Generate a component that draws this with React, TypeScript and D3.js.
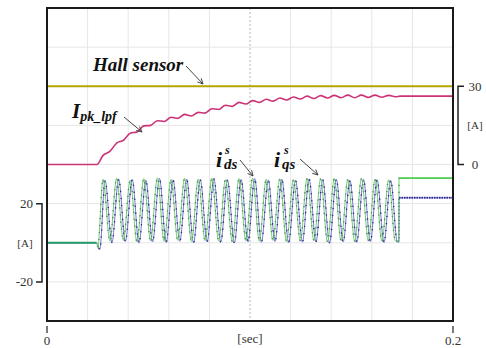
import { useRef, useEffect } from 'react';
import * as d3 from 'd3';

// time in ms, currents in A
const hallLevel = 30;

const ipkTimes = [0, 24.6, 27.6, 30.95, 34.3, 37.65, 41.0, 44.35, 47.7, 51.05, 54.4, 57.75, 61.1, 64.45, 67.8, 71.15,
  74.5, 77.85, 81.2, 84.55, 87.9, 91.25, 94.6, 97.95, 101.3, 104.65, 108.0, 111.35, 114.7, 118.05, 121.4, 124.75,
  128.1, 131.45, 134.8, 138.15, 141.5, 144.85, 148.2, 151.55, 154.9, 158.25, 161.6, 164.95, 168.3, 171.65, 174, 200];
const ipkVals = [0, 0, 3.5, 5.0, 8.2, 9.3, 12.0, 12.5, 14.8, 15.0, 16.8, 16.5, 18.1, 17.7, 19.2, 18.6,
  20.0, 19.7, 21.4, 21.1, 22.7, 22.3, 23.8, 23.2, 24.5, 23.8, 25.0, 24.3, 25.5, 24.7, 25.9, 25.1,
  26.2, 25.3, 26.4, 25.5, 26.5, 25.6, 26.6, 25.6, 26.6, 25.7, 26.6, 25.8, 26.5, 26.0, 26.2, 26.2];

const peakTimes = [27.6, 34.3, 41.0, 47.7, 54.4, 61.1, 67.8, 74.5, 81.2, 87.9, 94.6, 101.3, 108.0, 114.7,
  121.4, 128.1, 134.8, 141.5, 148.2, 154.9, 161.6, 168.3];
const troughTimes = [31.0, 37.6, 44.3, 51.0, 57.7, 64.4, 71.2, 77.9, 84.6, 91.3, 98.0, 104.6, 111.3, 118.0,
  124.8, 131.5, 138.2, 144.9, 151.6, 158.3, 165.0, 171.6];
const idsPeaks = [32.5, 33.0, 32.0, 32.8, 33.2, 32.4, 32.9, 32.6, 33.0, 32.2, 32.8, 33.1, 32.5, 32.7, 32.3,
  33.0, 32.6, 32.9, 32.4, 32.8, 32.5, 32.2];
const idsTroughs = [0.8, 1.2, 0.5, 1.0, 0.7, 1.3, 0.6, 1.1, 0.9, 0.4, 1.0, 0.8, 1.2, 0.6, 0.9, 1.1, 0.5, 1.0,
  0.8, 1.2, 0.7, 0.9];
const iqsPeaks = [31.8, 32.6, 32.3, 32.0, 32.9, 32.1, 32.5, 32.2, 32.7, 32.0, 32.4, 32.8, 32.1, 32.5, 32.0,
  32.6, 32.3, 32.5, 32.0, 32.4, 32.2, 31.9];
const iqsTroughs = [0.2, 0.6, -0.2, 0.4, 0.1, 0.7, 0.0, 0.5, 0.3, -0.1, 0.4, 0.2, 0.6, 0.0, 0.3, 0.5, -0.1,
  0.4, 0.2, 0.6, 0.1, 0.3];
const iqsLag = 1.0;
const startTimes = [24.4, 25.0];
const idsStart = [0, -2.5];
const iqsStart = [0, -3.5];
const stopTime = 173.4;
const idsFinal = 33;
const iqsFinal = 23;

const leftTicks = [20, -20];
const rightTicks = [30, 0];
const timeTicks = [0, 200];
const timeLabels = ['0', '0.2'];

function buildWave(peaks: number[], troughs: number[], start: number[], final: number, lag: number) {
  const pts: [number, number][] = [[0, 0]];
  startTimes.forEach((t, i) => pts.push([t + lag * i, start[i]]));
  peakTimes.forEach((t, i) => {
    pts.push([t + lag, peaks[i]]);
    pts.push([troughTimes[i] + lag, troughs[i]]);
  });
  pts.push([stopTime - 0.05, troughs[troughs.length - 1]]);
  pts.push([stopTime, final]);
  pts.push([200, final]);
  return pts;
}

export default function App() {
  const svgRef = useRef<SVGSVGElement>(null);

  useEffect(() => {
    const svg = d3.select(svgRef.current);
    svg.selectAll('*').remove();

    const left = 47, right = 453, top = 8, bottom = 321;
    const x = d3.scaleLinear().domain([0, 200]).range([left, right]);
    const yR = d3.scaleLinear().domain([-60, 60]).range([bottom, top]);
    const yL = d3.scaleLinear().domain([-40, 120]).range([bottom, top]);
    const font = "'Liberation Serif', 'Times New Roman', Times, serif";

    svg.append('rect').attr('width', 486).attr('height', 348).attr('fill', '#fff');

    // grid
    const g = svg.append('g');
    d3.range(1, 10).forEach(i => {
      const xx = left + (right - left) * i / 10;
      g.append('line').attr('x1', xx).attr('x2', xx).attr('y1', top).attr('y2', bottom)
        .attr('stroke', i === 5 ? '#b8b8b8' : '#e6e6e6').attr('stroke-width', 1)
        .attr('stroke-dasharray', i === 5 ? '2,2' : null);
    });
    d3.range(1, 8).forEach(i => {
      const yy = top + (bottom - top) * i / 8;
      g.append('line').attr('x1', left).attr('x2', right).attr('y1', yy).attr('y2', yy)
        .attr('stroke', '#e6e6e6').attr('stroke-width', 1);
    });

    // traces
    const line = d3.line<[number, number]>().curve(d3.curveMonotoneX);
    const hall = [[0, hallLevel], [200, hallLevel]] as [number, number][];
    svg.append('path')
      .attr('d', line.x(d => x(d[0])).y(d => yR(d[1]))(hall))
      .attr('fill', 'none').attr('stroke', '#b3a600').attr('stroke-width', 2);

    const ipk = ipkTimes.map((t, i) => [t, ipkVals[i]] as [number, number]);
    svg.append('path')
      .attr('d', line.x(d => x(d[0])).y(d => yR(d[1]))(ipk))
      .attr('fill', 'none').attr('stroke', '#cc3377').attr('stroke-width', 1.6);

    const iqs = buildWave(iqsPeaks, iqsTroughs, iqsStart, iqsFinal, iqsLag);
    const ids = buildWave(idsPeaks, idsTroughs, idsStart, idsFinal, 0);

    const waves = [
      { data: iqs, color: '#7a7ad0', dot: '#2a2a8c' },
      { data: ids, color: '#70d070', dot: '#5a8a70' },
    ];
    waves.forEach(w => {
      const p = svg.append('path')
        .attr('d', line.x(d => x(d[0])).y(d => yL(d[1]))(w.data))
        .attr('fill', 'none').attr('stroke', w.color).attr('stroke-width', 1);
      const node = p.node() as SVGPathElement;
      const len = node.getTotalLength();
      const dots = d3.range(0, len, 7).map(l => node.getPointAtLength(l))
        .filter(pt => pt.x > x(startTimes[0]) && pt.x < x(stopTime));
      svg.append('g').selectAll('circle').data(dots).enter().append('circle')
        .attr('cx', d => d.x).attr('cy', d => d.y).attr('r', 0.8).attr('fill', w.dot);
    });
    // levels before and after the pulse train
    svg.append('path')
      .attr('d', line.x(d => x(d[0])).y(d => yL(d[1]))([[0, 0], [startTimes[0], 0]]))
      .attr('stroke', '#279a6c').attr('stroke-width', 2).attr('fill', 'none');
    svg.append('path')
      .attr('d', line.x(d => x(d[0])).y(d => yL(d[1]))([[stopTime, idsFinal], [200, idsFinal]]))
      .attr('stroke', '#55cc55').attr('stroke-width', 1.8).attr('fill', 'none');
    svg.append('path')
      .attr('d', line.x(d => x(d[0])).y(d => yL(d[1]))([[stopTime, iqsFinal], [200, iqsFinal]]))
      .attr('stroke', '#33339a').attr('stroke-width', 1.8).attr('stroke-dasharray', '1.5,1')
      .attr('fill', 'none');

    // frame
    svg.append('rect').attr('x', left).attr('y', top).attr('width', right - left).attr('height', bottom - top)
      .attr('fill', 'none').attr('stroke', '#1a1a1a').attr('stroke-width', 2);

    // left axis bracket
    const ax = svg.append('g').attr('fill', '#333').attr('font-family', font).attr('font-size', 13);
    svg.append('path')
      .attr('d', `M36,${yL(leftTicks[0])}H42V${yL(leftTicks[1])}H36`)
      .attr('fill', 'none').attr('stroke', '#222').attr('stroke-width', 1.5);
    leftTicks.forEach(v => {
      ax.append('text').attr('x', 33).attr('y', yL(v) + 4.5).attr('text-anchor', 'end').text(String(v));
    });
    ax.append('text').attr('x', 25).attr('y', yL(0) + 4).attr('text-anchor', 'middle')
      .attr('font-size', 11).text('[A]');

    // right axis bracket
    svg.append('path')
      .attr('d', `M464,${yR(rightTicks[0])}H458V${yR(rightTicks[1])}H464`)
      .attr('fill', 'none').attr('stroke', '#222').attr('stroke-width', 1.5);
    rightTicks.forEach(v => {
      ax.append('text').attr('x', 475).attr('y', yR(v) + 4.5).attr('text-anchor', 'middle').text(String(v));
    });
    ax.append('text').attr('x', 475).attr('y', (yR(0) + yR(30)) / 2 + 4).attr('text-anchor', 'middle')
      .attr('font-size', 11).text('[A]');

    // time axis
    timeTicks.forEach((t, i) => {
      svg.append('line').attr('x1', x(t)).attr('x2', x(t)).attr('y1', 326).attr('y2', 333)
        .attr('stroke', '#222').attr('stroke-width', 1.2);
      ax.append('text').attr('x', x(t)).attr('y', 345).attr('text-anchor', 'middle').text(timeLabels[i]);
    });
    ax.append('text').attr('x', x(100)).attr('y', 343).attr('text-anchor', 'middle').text('[sec]');

    // annotations
    const lbl = svg.append('g').attr('font-family', font).attr('font-weight', 'bold')
      .attr('font-style', 'italic').attr('fill', '#111');
    lbl.append('text').attr('x', 93).attr('y', 71).attr('font-size', 19).text('Hall sensor');

    const ipkText = lbl.append('text').attr('x', 72).attr('y', 118).attr('font-size', 21);
    ipkText.append('tspan').text('I');
    ipkText.append('tspan').attr('dy', 3).attr('font-size', 14).text('pk_lpf');

    lbl.append('text').attr('x', 216).attr('y', 167).attr('font-size', 22).text('i');
    lbl.append('text').attr('x', 225).attr('y', 154).attr('font-size', 12).text('s');
    lbl.append('text').attr('x', 224).attr('y', 169).attr('font-size', 15).text('ds');

    lbl.append('text').attr('x', 274).attr('y', 167).attr('font-size', 22).text('i');
    lbl.append('text').attr('x', 284).attr('y', 154).attr('font-size', 12).text('s');
    lbl.append('text').attr('x', 282).attr('y', 169).attr('font-size', 15).text('qs');

    const arrows: [number, number, number, number][] = [
      [186, 66, 203, 84], [124, 117, 142, 132], [240, 160, 253, 176], [300, 159, 318, 175],
    ];
    arrows.forEach(([x1, y1, x2, y2]) => {
      svg.append('line').attr('x1', x1).attr('y1', y1).attr('x2', x2).attr('y2', y2)
        .attr('stroke', '#444').attr('stroke-width', 1);
      const a = Math.atan2(y2 - y1, x2 - x1);
      const h = 6;
      const p1 = [x2 - h * Math.cos(a - 0.45), y2 - h * Math.sin(a - 0.45)];
      const p2 = [x2 - h * Math.cos(a + 0.45), y2 - h * Math.sin(a + 0.45)];
      svg.append('path').attr('d', `M${p1[0]},${p1[1]}L${x2},${y2}L${p2[0]},${p2[1]}`)
        .attr('fill', 'none').attr('stroke', '#444').attr('stroke-width', 1);
    });
  }, []);

  return (
    <svg ref={svgRef} width={486} height={348}
      style={{ position: 'absolute', left: 0, top: 0, display: 'block' }} />
  );
}
